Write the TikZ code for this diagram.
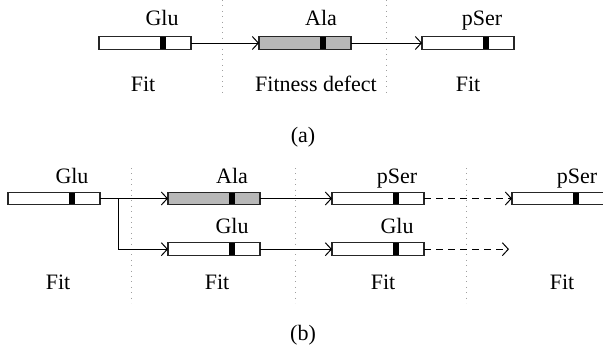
\documentclass[tikz,border=0pt]{standalone}
\usepackage{fontspec}
\setmainfont{Liberation Serif}
\usetikzlibrary{arrows.meta}
\begin{document}
\begin{tikzpicture}[x=1pt,y=-1pt,
  every node/.style={font=\fontsize{22}{26}\selectfont},
  gene/.style={draw=black!85, line width=1.1pt, minimum width=92pt, minimum height=12.6pt,
    inner sep=0pt, outer sep=0pt, fill=white,
    path picture={\fill[black] ([xshift=61pt]path picture bounding box.south west) rectangle ([xshift=67pt]path picture bounding box.north west);}},
  mutant/.style={gene, fill=black!28},
  lbl/.style={anchor=base, inner sep=0pt},
  link/.style={line width=1pt, -{Straight Barb[length=6pt,width=13pt,line width=1pt]}},
  dlink/.style={link, dash pattern=on 7pt off 5pt},
  sep/.style={gray!75, line width=0.9pt, dash pattern=on 0.9pt off 4.5pt},
]
\useasboundingbox (0,0) rectangle (603,348);
\clip (0,0) rectangle (603,348);
% separators
\draw[sep] (222,0) -- (222,97);
\draw[sep] (386,0) -- (386,97);
\draw[sep] (131,168) -- (131,303);
\draw[sep] (295,168) -- (295,303);
\draw[sep] (466,168) -- (466,303);
% part (a)
\node[gene] (a1) at (145,43) {};
\node[mutant] (a2) at (305,43) {};
\node[gene] (a3) at (468,43) {};
\node[lbl] (la1) at (162,25) {Glu};
\node[lbl] (la2) at (321,25) {Ala};
\node[lbl] (la3) at (482,25) {pSer};
\draw[link] (a1.east) -- (a2.west);
\draw[link] (a2.east) -- (a3.west);
\node[lbl] (fa1) at (143,91.5) {Fit};
\node[lbl] (fa2) at (316,91.5) {Fitness defect};
\node[lbl] (fa3) at (468,91.5) {Fit};
\node (capa) at (303,137) {(a)};
% part (b)
\node[gene] (b1) at (54,198.5) {};
\node[mutant] (b2) at (214,198.5) {};
\node[gene] (b3) at (214,249.2) {};
\node[gene] (b4) at (378,198.5) {};
\node[gene] (b5) at (378,249.2) {};
\node[gene] (b6) at (558,198.5) {};
\node[lbl] (lb1) at (72,183.5) {Glu};
\node[lbl] (lb2) at (232,183.5) {Ala};
\node[lbl] (lb3) at (232,233.5) {Glu};
\node[lbl] (lb4) at (397,183.5) {pSer};
\node[lbl] (lb5) at (397,233.5) {Glu};
\node[lbl] (lb6) at (577,183.5) {pSer};
\coordinate (br) at (118,198.5);
\coordinate (e5) at (509,249.2);
\draw[link] (b1.east) -- (b2.west);
\draw[link] (br) |- (b3.west);
\draw[link] (b2.east) -- (b4.west);
\draw[link] (b3.east) -- (b5.west);
\draw[dlink] (b4.east) -- (b6.west);
\draw[dlink] (b5.east) -- (e5);
\node[lbl] (fb1) at (58,289.5) {Fit};
\node[lbl] (fb2) at (217,289.5) {Fit};
\node[lbl] (fb3) at (383,289.5) {Fit};
\node[lbl] (fb4) at (562,289.5) {Fit};
\node (capb) at (303,335) {(b)};
\end{tikzpicture}
\end{document}
